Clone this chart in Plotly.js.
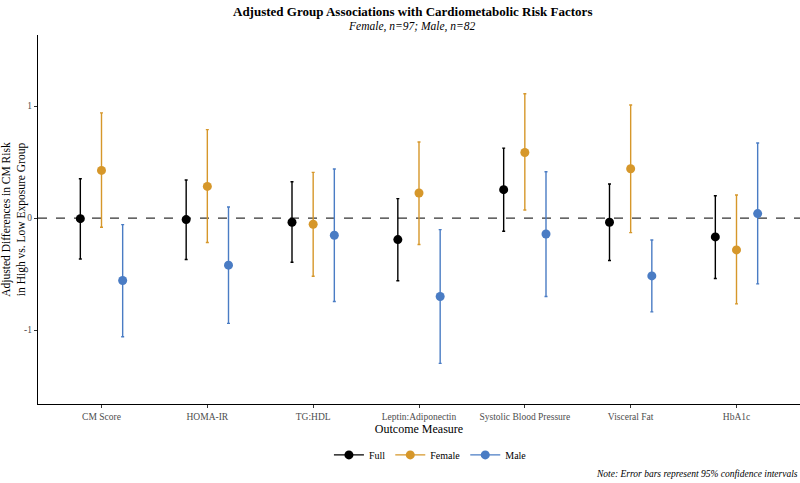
<!DOCTYPE html>
<html>
<head>
<meta charset="utf-8">
<script src="https://cdn.plot.ly/plotly-3.0.1.min.js"></script>
<style>html,body{margin:0;padding:0;background:#fff;}#chart{width:800px;height:483px;}</style>
</head>
<body>
<div id="chart"></div>
<script>
const categories = ["CM Score","HOMA-IR","TG:HDL","Leptin:Adiponectin","Systolic Blood Pressure","Visceral Fat","HbA1c"];
const groups = ["Full","Female","Male"];
const fullEst   = [-0.005, -0.013, -0.037, -0.192, 0.254, -0.037, -0.168];
const fullLow   = [-0.365, -0.370, -0.394, -0.560, -0.118, -0.379, -0.540];
const fullHigh  = [0.352, 0.340, 0.325, 0.174, 0.625, 0.304, 0.200];
const femaleEst  = [0.426, 0.283, -0.055, 0.224, 0.586, 0.441, -0.284];
const femaleLow  = [-0.082, -0.218, -0.519, -0.236, 0.072, -0.130, -0.766];
const femaleHigh = [0.940, 0.790, 0.408, 0.680, 1.110, 1.010, 0.206];
const maleEst  = [-0.557, -0.420, -0.153, -0.700, -0.142, -0.516, 0.040];
const maleLow  = [-1.060, -0.940, -0.745, -1.297, -0.700, -0.837, -0.587];
const maleHigh = [-0.058, 0.099, 0.438, -0.103, 0.414, -0.195, 0.670];

const colors = {Full:"#000000", Female:"#D6972A", Male:"#4A7CC4"};
const dodge = {Full:-0.2, Female:0, Male:0.2};
const series = {
  Full:{est:fullEst, lo:fullLow, hi:fullHigh},
  Female:{est:femaleEst, lo:femaleLow, hi:femaleHigh},
  Male:{est:maleEst, lo:maleLow, hi:maleHigh}
};
const traces = [];
groups.forEach(g => {
  const s = series[g];
  traces.push({
    type:"scatter", mode:"markers", name:g, showlegend:false,
    x: categories.map((c,i)=> i + dodge[g]),
    y: s.est,
    marker:{color:colors[g], size:9},
    error_y:{type:"data", symmetric:false,
      array: s.hi.map((h,i)=> h - s.est[i]),
      arrayminus: s.est.map((e,i)=> e - s.lo[i]),
      color: colors[g], thickness:1.4, width:1.5}
  });
});
groups.forEach(g => {
  traces.push({
    type:"scatter", mode:"lines+markers", name:g, showlegend:true,
    x:[null], y:[null],
    marker:{color:colors[g], size:9}, line:{color:colors[g], width:1.4}
  });
});
const font = "Liberation Serif, Times New Roman, serif";
const layout = {
  width:800, height:483,
  margin:{l:38, r:0, t:35, b:79},
  paper_bgcolor:"#fff", plot_bgcolor:"#fff",
  font:{family:font, size:11, color:"#000"},
  showlegend:true,
  legend:{orientation:"h", x:0.515, xanchor:"center", y:-0.138, yanchor:"middle",
    font:{family:font, size:10, color:"#000"}, itemwidth:30, tracegroupgap:0},
  xaxis:{range:[-0.6,6.6], tickmode:"array", tickvals:categories.map((c,i)=>i), ticktext:categories,
    showgrid:false, zeroline:false, showline:true, linecolor:"#000", linewidth:1.2,
    ticks:"outside", ticklen:3, tickcolor:"#333", tickwidth:1,
    tickfont:{family:font, size:9.5, color:"#4d4d4d"},
    title:{text:"Outcome Measure", font:{family:font, size:12, color:"#000"}, standoff:3}},
  yaxis:{range:[-1.66,1.635], tickvals:[-1,0,1], ticktext:["-1","0","1"],
    showgrid:false, zeroline:false, showline:true, linecolor:"#000", linewidth:1.2,
    ticks:"outside", ticklen:3, tickcolor:"#333", tickwidth:1,
    tickfont:{family:font, size:9.5, color:"#4d4d4d"},
    title:{text:"Adjusted Differences in CM Risk<br>in High vs. Low Exposure Group", font:{family:font, size:11.5, color:"#000"}, standoff:8}},
  shapes:[{type:"line", xref:"paper", x0:0, x1:1, yref:"y", y0:0, y1:0,
    line:{color:"#333", width:1.3, dash:"dash"}, layer:"below"}],
  annotations:[
    {text:"<b>Adjusted Group Associations with Cardiometabolic Risk Factors</b>", xref:"paper", yref:"paper",
      x:0.491, y:1, yshift:24, xanchor:"center", yanchor:"middle", showarrow:false,
      font:{family:font, size:13, color:"#000"}},
    {text:"<i>Female, n=97; Male, n=82</i>", xref:"paper", yref:"paper",
      x:0.491, y:1, yshift:9, xanchor:"center", yanchor:"middle", showarrow:false,
      font:{family:font, size:11.5, color:"#000"}},
    {text:"<i>Note: Error bars represent 95% confidence intervals</i>", xref:"paper", yref:"paper",
      x:1, y:0, yshift:-70, xanchor:"right", yanchor:"middle", showarrow:false,
      font:{family:font, size:9.5, color:"#000"}}
  ]
};
Plotly.newPlot("chart", traces, layout, {displayModeBar:false, staticPlot:true});
</script>
</body>
</html>
